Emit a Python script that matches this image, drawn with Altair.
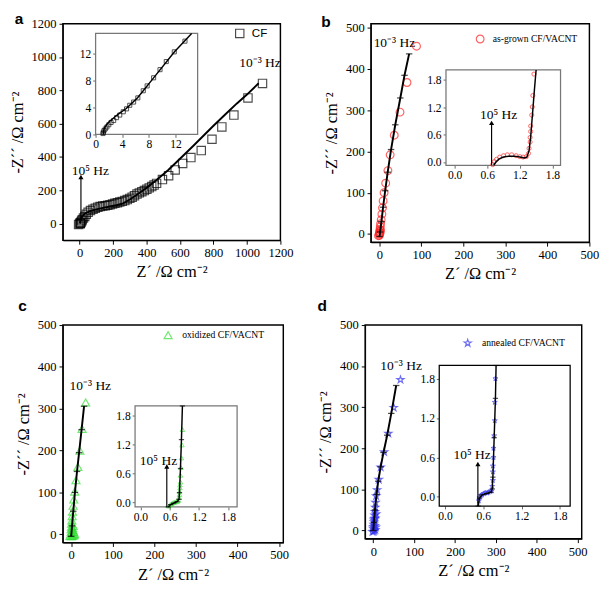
import altair as alt
import pandas as pd

SERIF = "Liberation Serif"
SANS = "Liberation Sans"
X_TITLE = "Z´ /Ω cm⁻²"
Y_TITLE = "-Z´´ /Ω cm⁻²"
STAR = "M0,-1L0.225,-0.31L0.95,-0.31L0.36,0.12L0.59,0.81L0,0.38L-0.59,0.81L-0.36,0.12L-0.95,-0.31L-0.225,-0.31Z"

# ---------------- panel a : CF ----------------
a_x = [-6, 2, 4, 5, 8, 12, 16, 23, 31, 40, 51, 65, 80, 94, 109, 123, 138, 153, 168, 182, 197, 211, 226, 240,
       255, 270, 285, 300, 314, 328, 343, 357, 372, 387, 402, 416, 431, 445, 460, 495, 532, 571, 616, 665,
       727, 791, 850, 922, 1006, 1093]
a_y = [-5, 2, 0, 4, 8, 16, 23, 34, 43, 56, 68, 79, 87, 93, 99, 103, 106, 108, 110, 114, 118, 122, 126, 130,
       134, 139, 145, 152, 159, 168, 178, 185, 192, 199, 207, 215, 223, 232, 242, 265, 288, 323, 362, 397,
       439, 507, 581, 652, 755, 842]
a_fit_x = [1.5, 5, 12, 25, 45, 70, 100, 140, 180, 220, 260, 300, 340, 400, 460, 530, 600, 680, 740, 800, 870, 940, 1000, 1070]
a_fit_y = [0, 20, 38, 55, 68, 78, 86, 95, 103, 111, 122, 145, 172, 215, 262, 322, 390, 468, 528, 588, 655, 722, 775, 843]
a_in_x = [1.11, 1.16, 1.26, 1.45, 1.69, 1.98, 2.32, 2.71, 3.14, 3.62, 4.15, 4.64, 5.12, 5.70, 6.33, 7.15, 7.73, 8.70, 9.66, 10.6, 11.8, 13.4]
a_in_y = [0.14, 0.34, 0.58, 0.82, 1.11, 1.44, 1.78, 2.07, 2.50, 2.88, 3.37, 3.80, 4.33, 4.81, 5.43, 6.49, 7.21, 8.41, 9.62, 10.82, 12.26, 13.85]
a_in_fit_x = [1.15, 1.2, 1.35, 1.65, 2.1, 2.7, 3.5, 4.6, 6.3, 8.7, 11.8, 14.4]
a_in_fit_y = [0, 0.5, 1.0, 1.45, 1.95, 2.45, 3.1, 3.85, 5.45, 8.4, 12.25, 15.0]

# ---------------- panel b : as-grown CF/VACNT ----------------
b_x = [-2, 0.3, 0.5, 1.0, 0.8, 2, 1.5, 3, 2.3, 3.0, 4.5, 6.1, 7.6, 9.1, 11.4, 15.2, 20.5, 25.8, 35.6, 49.2, 65.9, 88.6]
b_y = [-4, -3, 2, 0, 6, 4, 11.5, 9, 17.6, 25, 34.5, 48.2, 63.6, 80.4, 100.3, 123.3, 153.9, 192.2, 239.7, 295.6, 367.5, 455.6]
b_fit_x = [0.5, 2, 5, 9, 14, 20, 28, 38, 50, 60, 71]
b_fit_y = [-6, 5, 30, 65, 105, 150, 205, 265, 330, 385, 437]
b_in_x = [0.70, 0.73, 0.77, 0.83, 0.90, 0.97, 1.05, 1.13, 1.20, 1.26, 1.32, 1.36, 1.37, 1.39, 1.39, 1.40, 1.40, 1.42, 1.43, 1.44, 1.46]
b_in_y = [-0.056, 0.01, 0.06, 0.11, 0.14, 0.16, 0.16, 0.14, 0.12, 0.11, 0.12, 0.19, 0.30, 0.44, 0.54, 0.67, 0.79, 1.03, 1.21, 1.46, 1.93]
b_in_fit_x = [0.72, 0.76, 0.82, 0.9, 1.0, 1.1, 1.2, 1.28, 1.33, 1.37, 1.40, 1.43, 1.47, 1.50]
b_in_fit_y = [-0.07, 0.0, 0.07, 0.11, 0.13, 0.13, 0.11, 0.09, 0.11, 0.25, 0.55, 1.0, 1.6, 2.02]

# ---------------- panel c : oxidized CF/VACNT ----------------
c_x = [-3, 2, 5, 7, 8, 6, 4, 3, 5, 0, 0, 0, 0, 0.8, 0.8, 1.5, 2.3, 3.1, 4.6, 6.2, 8.5, 11.6, 16.2, 20.9, 26.3, 34.8]
c_y = [-4, -4, -3, -2, 1, 5, 10, 15, 20, -5, 2, 6, 12, 18, 25, 33, 43, 54, 68, 83, 102, 129, 161, 200, 252, 315]
c_fit_x = [0, 2, 5, 9, 14, 19, 25, 31]
c_fit_y = [-5, 20, 55, 100, 150, 195, 250, 306]
c_in_x = [0.58, 0.61, 0.64, 0.67, 0.70, 0.73, 0.76, 0.78, 0.79, 0.80, 0.80, 0.81, 0.81, 0.82, 0.82, 0.83, 0.84, 0.85, 0.86]
c_in_y = [-0.08, -0.05, -0.03, -0.01, 0.0, 0.01, 0.02, 0.04, 0.10, 0.16, 0.22, 0.30, 0.36, 0.42, 0.56, 0.72, 0.92, 1.19, 1.51]
c_in_fit_x = [0.57, 0.62, 0.68, 0.75, 0.79, 0.80, 0.82, 0.84, 0.86]
c_in_fit_y = [-0.1, -0.05, -0.02, 0.01, 0.06, 0.2, 0.7, 1.3, 2.0]

# ---------------- panel d : annealed CF/VACNT ----------------
d_x = [-2, 1, 3, 5, 6, 4, 2, 5, 7, 0, 0, 0.8, 1.6, 2.3, 3.1, 3.9, 4.7, 5.5, 7, 9.4, 13.3, 18, 26.6, 36.8, 50, 66.5]
d_y = [-3, -2, 0, 2, 8, 12, 25, 30, 40, 5, 9, 15, 21, 29, 37, 46, 56, 68, 84, 99, 124, 154, 191, 236, 299, 367]
d_fit_x = [0, 1.5, 4, 8, 12, 18, 25, 34, 44, 56]
d_fit_y = [0, 20, 50, 88, 120, 155, 190, 232, 285, 353]
d_in_x = [0.53, 0.54, 0.56, 0.58, 0.61, 0.63, 0.66, 0.68, 0.71, 0.73, 0.74, 0.75, 0.75, 0.75, 0.76, 0.76, 0.77, 0.78, 0.78, 0.79]
d_in_y = [-0.06, -0.01, 0.02, 0.03, 0.05, 0.06, 0.06, 0.07, 0.08, 0.09, 0.16, 0.25, 0.38, 0.47, 0.60, 0.74, 0.93, 1.16, 1.44, 1.80]
d_in_fit_x = [0.52, 0.54, 0.58, 0.65, 0.72, 0.74, 0.75, 0.77, 0.79, 0.80]
d_in_fit_y = [-0.14, -0.02, 0.03, 0.05, 0.07, 0.12, 0.3, 0.9, 1.5, 2.0]

FONT_STACK = SERIF + ", Times New Roman, serif"


def main_axis(values, title):
    return alt.Axis(values=values, title=title, grid=False, format="d", labelFont=FONT_STACK, labelFontSize=13,
                    titleFont=FONT_STACK, titleFontSize=17, titleFontWeight="normal", labelColor="black",
                    titleColor="black", domainColor="black", tickColor="black", tickSize=4,
                    labelFlush=False, labelOverlap=False, labelPadding=3, titlePadding=5)


def inset_axis(values, orient, offset, fmt):
    return alt.Axis(values=values, title=None, orient=orient, offset=offset, grid=False, format=fmt,
                    labelFont=FONT_STACK, labelFontSize=12, labelColor="black", domain=False,
                    tickColor="#666", tickSize=3, labelFlush=False, labelOverlap=False, labelPadding=2)


def panel(letter, letter_xy, w, h, xdom, ydom, xticks, yticks, px, py, fx, fy, shape, color, size,
          ixdom, iydom, ixr, iyr, ixticks, iyticks, ifmt, ipx, ipy, ifx, ify, isize,
          legend_text, legend_xy, legend_text_x, legend_font, legend_fs,
          lowf_xy, arrow, arrow_in_inset, hz5_xy, frame_color, fit_marks, inset_fit_marks):
    xs = alt.Scale(domain=xdom, nice=False, zero=False)
    ys = alt.Scale(domain=ydom, nice=False, zero=False)
    xa = main_axis(xticks, X_TITLE)
    ya = main_axis(yticks, Y_TITLE)
    X = lambda f="x": alt.X(f + ":Q", scale=xs, axis=xa)
    Y = lambda f="y": alt.Y(f + ":Q", scale=ys, axis=ya)

    pts = pd.DataFrame({"x": px, "y": py})
    scatter = alt.Chart(pts).mark_point(shape=shape, filled=False, color=color, size=size, strokeWidth=1.2).encode(
        x=X(), y=Y())
    fdf = pd.DataFrame({"x": fx, "y": fy, "o": list(range(len(fx)))})
    fit = alt.Chart(fdf).mark_line(color="black", strokeWidth=2).encode(x=X(), y=Y(), order="o:Q")
    leg_pt = alt.Chart(pd.DataFrame({"x": [legend_xy[0]], "y": [legend_xy[1]]})).mark_point(
        shape=shape, filled=False, color=color, size=size, strokeWidth=1.2).encode(x=X(), y=Y())
    leg_tx = alt.Chart(pd.DataFrame({"x": [legend_text_x], "y": [legend_xy[1]], "t": [legend_text]})).mark_text(
        align="left", baseline="middle", font=legend_font, fontSize=legend_fs, color="black").encode(
        x=X(), y=Y(), text="t:N")
    lowf = alt.Chart(pd.DataFrame({"x": [lowf_xy[0]], "y": [lowf_xy[1]], "t": ["10⁻³ Hz"]})).mark_text(
        align="center", baseline="middle", font=SERIF, fontSize=14, color="black").encode(x=X(), y=Y(), text="t:N")
    let = alt.Chart(pd.DataFrame({"x": [letter_xy[0]], "y": [letter_xy[1]], "t": [letter]})).mark_text(
        align="center", baseline="middle", font=SANS, fontSize=16, fontWeight="bold", color="black").encode(
        x=X(), y=Y(), text="t:N")
    main_layers = [scatter, fit, leg_pt, leg_tx, lowf, let]
    if fit_marks:
        main_layers.append(alt.Chart(fdf).mark_point(shape="stroke", color="black", size=45, strokeWidth=1.3).encode(
            x=X(), y=Y()))

    ixs = alt.Scale(domain=ixdom, range=ixr, nice=False, zero=False)
    iys = alt.Scale(domain=iydom, range=iyr, nice=False, zero=False)
    ixa = inset_axis(ixticks, "bottom", iyr[0] - h, ifmt)
    iya = inset_axis(iyticks, "left", -ixr[0], ifmt)
    IX = lambda f="x": alt.X(f + ":Q", scale=ixs, axis=ixa)
    IY = lambda f="y": alt.Y(f + ":Q", scale=iys, axis=iya)
    frame = alt.Chart(pd.DataFrame({"x": [ixdom[0]], "x2": [ixdom[1]], "y": [iydom[0]], "y2": [iydom[1]]})).mark_rect(
        fill="white", stroke=frame_color, strokeWidth=1.3).encode(x=IX(), x2="x2:Q", y=IY(), y2="y2:Q")
    ipts = alt.Chart(pd.DataFrame({"x": ipx, "y": ipy})).mark_point(
        shape=shape, filled=False, color=color, size=isize, strokeWidth=1).encode(x=IX(), y=IY())
    ifdf = pd.DataFrame({"x": ifx, "y": ify, "o": list(range(len(ifx)))})
    ifit = alt.Chart(ifdf).mark_line(color="black", strokeWidth=1.5).encode(x=IX(), y=IY(), order="o:Q")
    inset_layers = [frame, ipts, ifit]
    if inset_fit_marks:
        inset_layers.append(alt.Chart(ifdf).mark_point(shape="stroke", color="black", size=30, strokeWidth=1.2).encode(
            x=IX(), y=IY()))

    adf = pd.DataFrame({"x": [arrow[0]], "y": [arrow[1]], "y2": [arrow[2]]})
    hdf = pd.DataFrame({"x": [arrow[0]], "y": [arrow[2]]})
    tdf = pd.DataFrame({"x": [hz5_xy[0]], "y": [hz5_xy[1]], "t": ["10⁵ Hz"]})
    if arrow_in_inset:
        AX, AY = IX, IY
    else:
        AX, AY = X, Y
    arr_rule = alt.Chart(adf).mark_rule(color="black", strokeWidth=1.2).encode(x=AX(), y=AY(), y2="y2:Q")
    arr_head = alt.Chart(hdf).mark_point(shape="triangle-up", filled=True, color="black", size=28, opacity=1).encode(
        x=AX(), y=AY())
    arr_txt = alt.Chart(tdf).mark_text(align="center", baseline="middle", font=SERIF, fontSize=14,
                                       color="black").encode(x=AX(), y=AY(), text="t:N")
    if arrow_in_inset:
        inset_layers += [arr_rule, arr_head, arr_txt]
    else:
        main_layers += [arr_rule, arr_head, arr_txt]

    return alt.layer(alt.layer(*main_layers), alt.layer(*inset_layers)).resolve_scale(
        x="independent", y="independent").properties(width=w, height=h)


t500 = [0, 100, 200, 300, 400, 500]
tin = [0.0, 0.6, 1.2, 1.8]

pa = panel("a", (-362, 1230), 226, 225, [-100, 1200], [-100, 1200], list(range(0, 1201, 200)), list(range(0, 1201, 200)),
           a_x, a_y, a_fit_x, a_fit_y, "square", "black", 75,
           [0, 15.3], [0, 15], [34, 140], [115, 10], [0, 4, 8, 12], [0, 4, 8, 12], "d",
           a_in_x, a_in_y, a_in_fit_x, a_in_fit_y, 18,
           "CF", (957, 1142), 1029, SANS, 12,
           (1078, 962), (8, 0, 280), False, (64, 318), "#777", False, False)
pb = panel("b", (-127, 515), 227, 227, [-20, 500], [-20, 510], t500, t500,
           b_x, b_y, b_fit_x, b_fit_y, "circle", "#ff2020", 65,
           [-0.16, 1.95], [-0.07, 2.02], [78, 197], [147, 48], tin, tin, ".1f",
           b_in_x, b_in_y, b_in_fit_x, b_in_fit_y, 18,
           "as-grown CF/VACNT", (240, 473), 270, SERIF, 10,
           (36, 462), (0.68, -0.07, 0.86), True, (0.81, 1.03), "#777", True, False)
pc = panel("c", (-117, 544), 229, 226, [-20, 510], [-20, 500], t500, t500,
           c_x, c_y, c_fit_x, c_fit_y, "triangle-up", "#33e033", 70,
           [-0.11, 1.98], [-0.1, 2.0], [75, 181], [189, 84], tin, tin, ".1f",
           c_in_x, c_in_y, c_in_fit_x, c_in_fit_y, 22,
           "oxidized CF/VACNT", (233, 476), 267, SERIF, 10,
           (46, 353), (0.54, -0.1, 0.74), True, (0.37, 0.86), "#777", True, True)
pd_ = panel("d", (-125, 545), 225, 222, [-20, 510], [-20, 500], t500, t500,
            d_x, d_y, d_fit_x, d_fit_y, STAR, "#3030f0", 60,
            [-0.09, 1.96], [-0.14, 2.0], [77, 213], [188, 42], tin, tin, ".1f",
            d_in_x, d_in_y, d_in_fit_x, d_in_fit_y, 30,
            "annealed CF/VACNT", (231, 456), 266, SERIF, 10,
            (68, 400), (0.515, -0.14, 0.5), True, (0.425, 0.64), "black", True, True)

chart = alt.vconcat(
    alt.hconcat(pa, pb, spacing=27),
    alt.hconcat(pc, pd_, spacing=27),
    spacing=16,
).properties(padding={"left": 0, "top": -9, "right": 0, "bottom": 0}, background="white").configure(
    font=SERIF,
    style={"guide-label": {"font": FONT_STACK}, "guide-title": {"font": FONT_STACK}},
).configure_view(stroke="black", strokeWidth=1.5).configure_axis(labelFont=FONT_STACK, titleFont=FONT_STACK)

chart.save("out.html", embed_options={"renderer": "svg", "actions": False})
